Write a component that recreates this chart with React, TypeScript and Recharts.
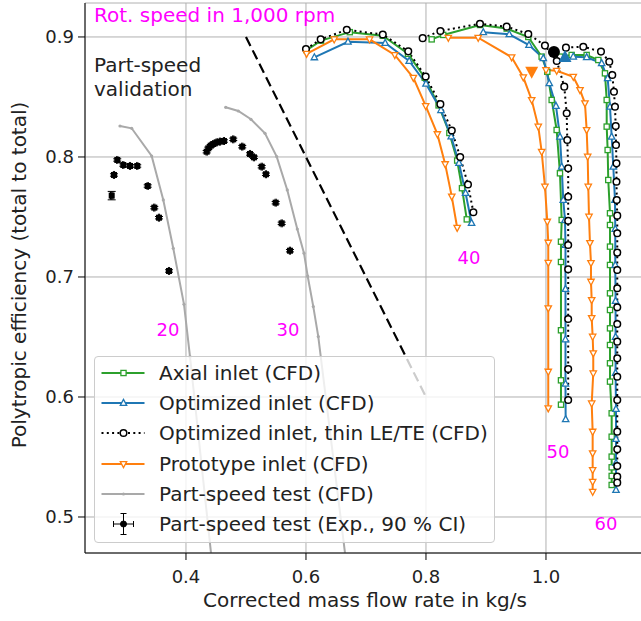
import {
  CartesianGrid,
  ComposedChart,
  ErrorBar,
  Line,
  ReferenceDot,
  Scatter,
  XAxis,
  YAxis,
} from "recharts";

const FONT = '"DejaVu Sans", sans-serif';
const GREEN = "#2ca02c";
const BLUE = "#1f77b4";
const ORANGE = "#ff7f0e";
const GRAY = "#a9a9a9";
const MAGENTA = "#ff00ff";
const TEXT = "#222";

const X_DOMAIN = [0.2317, 1.1667];
const Y_DOMAIN = [0.47, 0.9283];
const xTicks = [0.4, 0.6, 0.8, 1.0];
const yTicks = [0.5, 0.6, 0.7, 0.8, 0.9];

// CFD speed lines, [mass flow, efficiency]
const axial40 = [[0.601, 0.889], [0.625, 0.897], [0.673, 0.904], [0.728, 0.901], [0.77, 0.886], [0.798, 0.866], [0.821, 0.843], [0.839, 0.82], [0.852, 0.797], [0.86, 0.774], [0.868, 0.748]];
const axial50 = [[0.8095, 0.898], [0.8288, 0.9017], [0.89, 0.91], [0.9345, 0.907], [0.9705, 0.9], [0.9928, 0.8836], [1.0022, 0.871], [1.0095, 0.8475], [1.0178, 0.8225], [1.0233, 0.7864], [1.0262, 0.7475], [1.025, 0.7294], [1.025, 0.7125], [1.025, 0.6556], [1.025, 0.6139], [1.025, 0.5936]];
const axial60 = [[1.0233, 0.8836], [1.0428, 0.885], [1.0678, 0.885], [1.0872, 0.8808], [1.0983, 0.8697], [1.1012, 0.8475], [1.1012, 0.8253], [1.1028, 0.8058], [1.1038, 0.7808], [1.1067, 0.7531], [1.1067, 0.7433], [1.1067, 0.7253], [1.1067, 0.71], [1.1067, 0.6864], [1.1067, 0.6725], [1.1067, 0.6572], [1.1067, 0.6433], [1.1067, 0.6281], [1.1067, 0.6128], [1.1095, 0.5864], [1.1095, 0.5669], [1.1095, 0.5503], [1.1095, 0.5414], [1.1095, 0.5342], [1.1095, 0.5267]];

const opt40 = [[0.614, 0.883], [0.67, 0.896], [0.732, 0.895], [0.772, 0.88], [0.8, 0.861], [0.825, 0.839], [0.842, 0.817], [0.855, 0.795], [0.866, 0.77], [0.876, 0.745]];
const opt50 = [[0.8955, 0.9039], [0.9388, 0.9022], [0.9717, 0.8933], [0.9955, 0.8822], [1.0055, 0.8614], [1.0167, 0.8425], [1.0233, 0.8169], [1.0262, 0.7919], [1.0288, 0.7642], [1.0317, 0.7475], [1.0325, 0.7267], [1.0325, 0.69], [1.0325, 0.648], [1.0325, 0.611], [1.0328, 0.5814]];
const opt60 = [[1.0455, 0.8836], [1.0678, 0.8831], [1.0928, 0.8781], [1.1028, 0.8656], [1.1067, 0.8419], [1.1095, 0.8169], [1.1122, 0.7919], [1.115, 0.7642], [1.1155, 0.74], [1.1155, 0.71], [1.116, 0.68], [1.116, 0.65], [1.116, 0.62], [1.1167, 0.59], [1.1167, 0.565], [1.1167, 0.545], [1.1167, 0.5225]];

const thin40 = [[0.6, 0.89], [0.6245, 0.898], [0.668, 0.906], [0.728, 0.902], [0.7705, 0.888], [0.7995, 0.867], [0.824, 0.844], [0.843, 0.822], [0.857, 0.8], [0.87, 0.777], [0.879, 0.754]];
const thin50 = [[0.7945, 0.899], [0.824, 0.905], [0.89, 0.911], [0.9345, 0.9086], [0.9705, 0.9025], [0.9983, 0.8928], [1.018, 0.88], [1.0305, 0.8586], [1.0345, 0.8364], [1.0355, 0.8142], [1.037, 0.7906], [1.037, 0.7669], [1.037, 0.7469], [1.037, 0.7267], [1.037, 0.7064], [1.037, 0.665], [1.037, 0.6233], [1.037, 0.5975]];
const thin60 = [[1.0333, 0.8911], [1.0622, 0.8919], [1.0917, 0.8878], [1.1055, 0.8794], [1.1105, 0.8683], [1.1133, 0.8544], [1.115, 0.8419], [1.1162, 0.8258], [1.1167, 0.81], [1.1175, 0.7947], [1.1175, 0.7794], [1.118, 0.7642], [1.1188, 0.7511], [1.1188, 0.7364], [1.1188, 0.7203], [1.1188, 0.7058], [1.1188, 0.6906], [1.1188, 0.6748], [1.1188, 0.6608], [1.1188, 0.6461], [1.1188, 0.6322], [1.1188, 0.6169], [1.1188, 0.5975], [1.1188, 0.5711], [1.1188, 0.5564], [1.1188, 0.5425], [1.1188, 0.5336], [1.1188, 0.5286]];

const proto40 = [[0.601, 0.886], [0.647, 0.898], [0.706, 0.898], [0.748, 0.885], [0.779, 0.866], [0.7995, 0.8425], [0.819, 0.819], [0.832, 0.794], [0.843, 0.767], [0.852, 0.741]];
const proto50 = [[0.8372, 0.8994], [0.887, 0.8994], [0.9428, 0.8831], [0.9622, 0.8664], [0.9762, 0.8475], [0.9872, 0.8253], [0.9928, 0.8044], [0.9983, 0.7753], [1.0022, 0.7461], [1.0038, 0.7286], [1.0038, 0.7119], [1.0038, 0.6739], [1.0038, 0.6211], [1.0038, 0.5906]];
const proto60 = [[1.0, 0.8725], [1.0178, 0.8719], [1.0455, 0.8669], [1.0567, 0.8558], [1.065, 0.8447], [1.0678, 0.8225], [1.0695, 0.8003], [1.0705, 0.7753], [1.0717, 0.7503], [1.0733, 0.7283], [1.075, 0.7117], [1.075, 0.6961], [1.0762, 0.6808], [1.0762, 0.6658], [1.0778, 0.6503], [1.0788, 0.6364], [1.0788, 0.6197], [1.0762, 0.5947], [1.0778, 0.5711], [1.0778, 0.5531], [1.0778, 0.5392], [1.0778, 0.5294], [1.0778, 0.5211]];

// part-speed CFD (gray)
const cfd20 = [[0.29, 0.8258], [0.3095, 0.8239], [0.3428, 0.8008], [0.3622, 0.7642], [0.3788, 0.7239], [0.3967, 0.6772], [0.4067, 0.6336], [0.446, 0.45]];
const cfd30 = [[0.4662, 0.8414], [0.4872, 0.8383], [0.5083, 0.8314], [0.5317, 0.8197], [0.5512, 0.8003], [0.5688, 0.7725], [0.5855, 0.74], [0.5967, 0.7198], [0.6028, 0.7008], [0.6122, 0.6753], [0.6205, 0.6503], [0.67, 0.45]];

// part-speed test, [x, y, xErr, yErr]
const exp20 = [[0.2762, 0.7678, 0.002, 0.0035], [0.28, 0.785, 0.001, 0.001], [0.2855, 0.7975, 0.001, 0.001], [0.2955, 0.7933, 0.001, 0.001], [0.3067, 0.7925, 0.001, 0.001], [0.3188, 0.7925, 0.001, 0.001], [0.3362, 0.7758, 0.001, 0.001], [0.3472, 0.7578, 0.001, 0.001], [0.355, 0.7494, 0.001, 0.001], [0.3717, 0.705, 0.001, 0.001]];
const exp30 = [[0.4345, 0.8044, 0.001, 0.001], [0.4372, 0.8072, 0.001, 0.001], [0.4412, 0.8094, 0.001, 0.001], [0.4455, 0.8108, 0.001, 0.001], [0.4512, 0.8122, 0.001, 0.001], [0.4567, 0.8128, 0.001, 0.001], [0.4633, 0.8133, 0.001, 0.001], [0.4788, 0.8147, 0.001, 0.001], [0.4938, 0.8086, 0.001, 0.001], [0.5067, 0.8025, 0.001, 0.001], [0.5133, 0.7997, 0.001, 0.001], [0.5262, 0.7919, 0.001, 0.001], [0.5333, 0.7856, 0.001, 0.001], [0.5495, 0.7619, 0.001, 0.001], [0.5595, 0.7447, 0.001, 0.001], [0.5733, 0.7219, 0.001, 0.001]];

const surgeLine = [[0.5, 0.9], [0.8, 0.6]];

// design points at 60 krpm
const thinDesign = [[1.0133, 0.8875]];
const optDesign = [[1.0317, 0.8833]];
const protoDesign = [[0.9762, 0.871]];

const speedLabels = [
  { text: "20", x: 0.37, y: 0.6558 },
  { text: "30", x: 0.57, y: 0.6558 },
  { text: "40", x: 0.8717, y: 0.7158 },
  { text: "50", x: 1.02, y: 0.5542 },
  { text: "60", x: 1.1, y: 0.4942 },
];

const pts = (arr: number[][]) => arr.map(([x, y]) => ({ x, y }));
const errPts = (arr: number[][]) => arr.map(([x, y, ex, ey]) => ({ x, y, ex, ey }));

const squareDot = (color: string) => (p: any) => (
  <rect key={`s-${p.index}`} x={p.cx - 2.6} y={p.cy - 2.6} width={5.2} height={5.2} fill="#fff" stroke={color} strokeWidth={1.3} />
);
const triUpDot = (color: string) => (p: any) => (
  <polygon key={`tu-${p.index}`} points={`${p.cx},${p.cy - 3.6} ${p.cx - 3.2},${p.cy + 2.4} ${p.cx + 3.2},${p.cy + 2.4}`} fill="#fff" stroke={color} strokeWidth={1.3} />
);
const triDownDot = (color: string) => (p: any) => (
  <polygon key={`td-${p.index}`} points={`${p.cx},${p.cy + 3.6} ${p.cx - 3.2},${p.cy - 2.4} ${p.cx + 3.2},${p.cy - 2.4}`} fill="#fff" stroke={color} strokeWidth={1.3} />
);
const circleDot = (p: any) => (
  <circle key={`c-${p.index}`} cx={p.cx} cy={p.cy} r={3.3} fill="#fff" stroke="#000" strokeWidth={1.5} />
);
const smallDot = (p: any) => <circle key={`g-${p.index}`} cx={p.cx} cy={p.cy} r={1.6} fill={GRAY} />;

const expShape = (p: any) => <rect x={p.cx - 3} y={p.cy - 3} width={6} height={6} fill="#000" />;
const bigCircle = (p: any) => <circle cx={p.cx} cy={p.cy} r={6} fill="#000" />;
const bigTriUp = (p: any) => (
  <polygon points={`${p.cx},${p.cy - 7} ${p.cx - 6.5},${p.cy + 5} ${p.cx + 6.5},${p.cy + 5}`} fill={BLUE} />
);
const bigTriDown = (p: any) => (
  <polygon points={`${p.cx},${p.cy + 7} ${p.cx - 6.5},${p.cy - 5} ${p.cx + 6.5},${p.cy - 5}`} fill={ORANGE} />
);

const series = [
  { data: axial40, color: GREEN, dot: squareDot(GREEN), dash: undefined },
  { data: axial50, color: GREEN, dot: squareDot(GREEN), dash: undefined },
  { data: axial60, color: GREEN, dot: squareDot(GREEN), dash: undefined },
  { data: opt40, color: BLUE, dot: triUpDot(BLUE), dash: undefined },
  { data: opt50, color: BLUE, dot: triUpDot(BLUE), dash: undefined },
  { data: opt60, color: BLUE, dot: triUpDot(BLUE), dash: undefined },
  { data: thin40, color: "#000", dot: circleDot, dash: "2 3.3" },
  { data: thin50, color: "#000", dot: circleDot, dash: "2 3.3" },
  { data: thin60, color: "#000", dot: circleDot, dash: "2 3.3" },
  { data: proto40, color: ORANGE, dot: triDownDot(ORANGE), dash: undefined },
  { data: proto50, color: ORANGE, dot: triDownDot(ORANGE), dash: undefined },
  { data: proto60, color: ORANGE, dot: triDownDot(ORANGE), dash: undefined },
];

const legendItems = [
  { label: "Axial inlet (CFD)", kind: "square", color: GREEN },
  { label: "Optimized inlet (CFD)", kind: "triUp", color: BLUE },
  { label: "Optimized inlet, thin LE/TE (CFD)", kind: "circle", color: "#000" },
  { label: "Prototype inlet (CFD)", kind: "triDown", color: ORANGE },
  { label: "Part-speed test (CFD)", kind: "dot", color: GRAY },
  { label: "Part-speed test (Exp., 90 % CI)", kind: "err", color: "#000" },
];

const LegendIcon = ({ kind, color }: { kind: string; color: string }) => {
  const cx = 28.5;
  const cy = 15;
  if (kind === "err") {
    return (
      <g stroke="#000" strokeWidth={1}>
        <line x1={cx - 10} y1={cy} x2={cx + 10} y2={cy} />
        <line x1={cx - 10} y1={cy - 3} x2={cx - 10} y2={cy + 3} />
        <line x1={cx + 10} y1={cy - 3} x2={cx + 10} y2={cy + 3} />
        <line x1={cx} y1={cy - 10.5} x2={cx} y2={cy + 10.5} />
        <line x1={cx - 3} y1={cy - 10.5} x2={cx + 3} y2={cy - 10.5} />
        <line x1={cx - 3} y1={cy + 10.5} x2={cx + 3} y2={cy + 10.5} />
        <circle cx={cx} cy={cy} r={3} fill="#000" />
      </g>
    );
  }
  const p = { cx, cy, index: 0 };
  const marker =
    kind === "square" ? squareDot(color)(p)
    : kind === "triUp" ? triUpDot(color)(p)
    : kind === "triDown" ? triDownDot(color)(p)
    : kind === "circle" ? circleDot(p)
    : smallDot(p);
  return (
    <g>
      <line x1={6.5} y1={cy} x2={49.5} y2={cy} stroke={color} strokeWidth={2} strokeDasharray={kind === "circle" ? "2 3.3" : undefined} />
      {marker}
    </g>
  );
};

export default function App() {
  return (
    <div style={{ position: "absolute", left: 0, top: 0, width: 641, height: 621, overflow: "hidden", background: "#fff", fontFamily: FONT }}>
      <ComposedChart width={660} height={621} margin={{ top: 3, right: 14, bottom: 38, left: 0 }} style={{ fontFamily: FONT }}>
        <CartesianGrid stroke="#b0b0b0" strokeWidth={1} />
        <XAxis
          type="number"
          dataKey="x"
          domain={X_DOMAIN}
          ticks={xTicks}
          allowDataOverflow
          tickFormatter={(v: number) => v.toFixed(1)}
          tickSize={7}
          tickMargin={10}
          height={30}
          axisLine={{ stroke: "#000" }}
          tickLine={{ stroke: "#000" }}
          tick={{ fontSize: 18, fill: TEXT, fontFamily: FONT }}
        />
        <XAxis xAxisId="top" orientation="top" type="number" domain={X_DOMAIN} allowDataOverflow height={0} tick={false} tickLine={false} axisLine={{ stroke: "#000" }} />
        <YAxis
          type="number"
          domain={Y_DOMAIN}
          ticks={yTicks}
          allowDataOverflow
          width={85}
          tickFormatter={(v: number) => v.toFixed(1)}
          tickSize={7}
          tickMargin={4}
          axisLine={{ stroke: "#000" }}
          tickLine={{ stroke: "#000" }}
          tick={{ fontSize: 18, fill: TEXT, fontFamily: FONT }}
        />

        <Line data={pts(cfd20)} dataKey="y" stroke={GRAY} strokeWidth={2} dot={smallDot} activeDot={false} isAnimationActive={false} legendType="none" />
        <Line data={pts(cfd30)} dataKey="y" stroke={GRAY} strokeWidth={2} dot={smallDot} activeDot={false} isAnimationActive={false} legendType="none" />
        <Line data={pts(surgeLine)} dataKey="y" stroke="#000" strokeWidth={2.2} strokeDasharray="10 5" dot={false} activeDot={false} isAnimationActive={false} legendType="none" />

        {series.map((s, i) => (
          <Line
            key={`ser-${i}`}
            data={pts(s.data)}
            dataKey="y"
            stroke={s.color}
            strokeWidth={2}
            strokeDasharray={s.dash}
            dot={s.dot}
            activeDot={false}
            isAnimationActive={false}
            legendType="none"
          />
        ))}

        <Scatter data={errPts(exp20)} dataKey="y" fill="#000" shape={expShape} isAnimationActive={false} legendType="none">
          <ErrorBar dataKey="ey" direction="y" width={4} stroke="#000" strokeWidth={1} />
          <ErrorBar dataKey="ex" direction="x" width={4} stroke="#000" strokeWidth={1} />
        </Scatter>
        <Scatter data={errPts(exp30)} dataKey="y" fill="#000" shape={expShape} isAnimationActive={false} legendType="none">
          <ErrorBar dataKey="ey" direction="y" width={4} stroke="#000" strokeWidth={1} />
          <ErrorBar dataKey="ex" direction="x" width={4} stroke="#000" strokeWidth={1} />
        </Scatter>

        <Scatter data={pts(protoDesign)} dataKey="y" shape={bigTriDown} isAnimationActive={false} legendType="none" />
        <Scatter data={pts(thinDesign)} dataKey="y" shape={bigCircle} isAnimationActive={false} legendType="none" />
        <Scatter data={pts(optDesign)} dataKey="y" shape={bigTriUp} isAnimationActive={false} legendType="none" />

        {speedLabels.map((l) => (
          <ReferenceDot
            key={l.text}
            x={l.x}
            y={l.y}
            r={0}
            fill="none"
            stroke="none"
            label={{ value: l.text, position: "center", fill: MAGENTA, fontSize: 18, fontFamily: FONT }}
          />
        ))}
      </ComposedChart>

      <div style={{ position: "absolute", left: 94, top: 5, fontSize: 20, lineHeight: "20px", color: MAGENTA, whiteSpace: "nowrap" }}>
        Rot. speed in 1,000 rpm
      </div>
      <div style={{ position: "absolute", left: 94, top: 53, fontSize: 20, lineHeight: "24px", color: TEXT, whiteSpace: "nowrap" }}>
        Part-speed
        <br />
        validation
      </div>
      <div style={{ position: "absolute", left: 115, width: 500, top: 590, fontSize: 20, lineHeight: "20px", color: TEXT, textAlign: "center", whiteSpace: "nowrap" }}>
        Corrected mass flow rate in kg/s
      </div>
      <div style={{ position: "absolute", left: 19 - 220, width: 440, top: 275 - 10, fontSize: 20, lineHeight: "20px", color: TEXT, textAlign: "center", whiteSpace: "nowrap", transform: "rotate(-90deg)" }}>
        Polytropic efficiency (total to total)
      </div>

      <div style={{ position: "absolute", left: 94, top: 356, width: 401, height: 187, boxSizing: "border-box", border: "1px solid #cccccc", borderRadius: 4, background: "rgba(255,255,255,0.8)" }}>
        {legendItems.map((it, i) => (
          <div key={it.label} style={{ position: "absolute", left: 0, top: 1 + i * 30.2, height: 30, width: 398 }}>
            <svg width={60} height={30} style={{ position: "absolute", left: 0, top: 0 }}>
              <LegendIcon kind={it.kind} color={it.color} />
            </svg>
            <span style={{ position: "absolute", left: 64, top: 0, fontSize: 20, lineHeight: "30px", color: TEXT, whiteSpace: "nowrap" }}>
              {it.label}
            </span>
          </div>
        ))}
      </div>
    </div>
  );
}
